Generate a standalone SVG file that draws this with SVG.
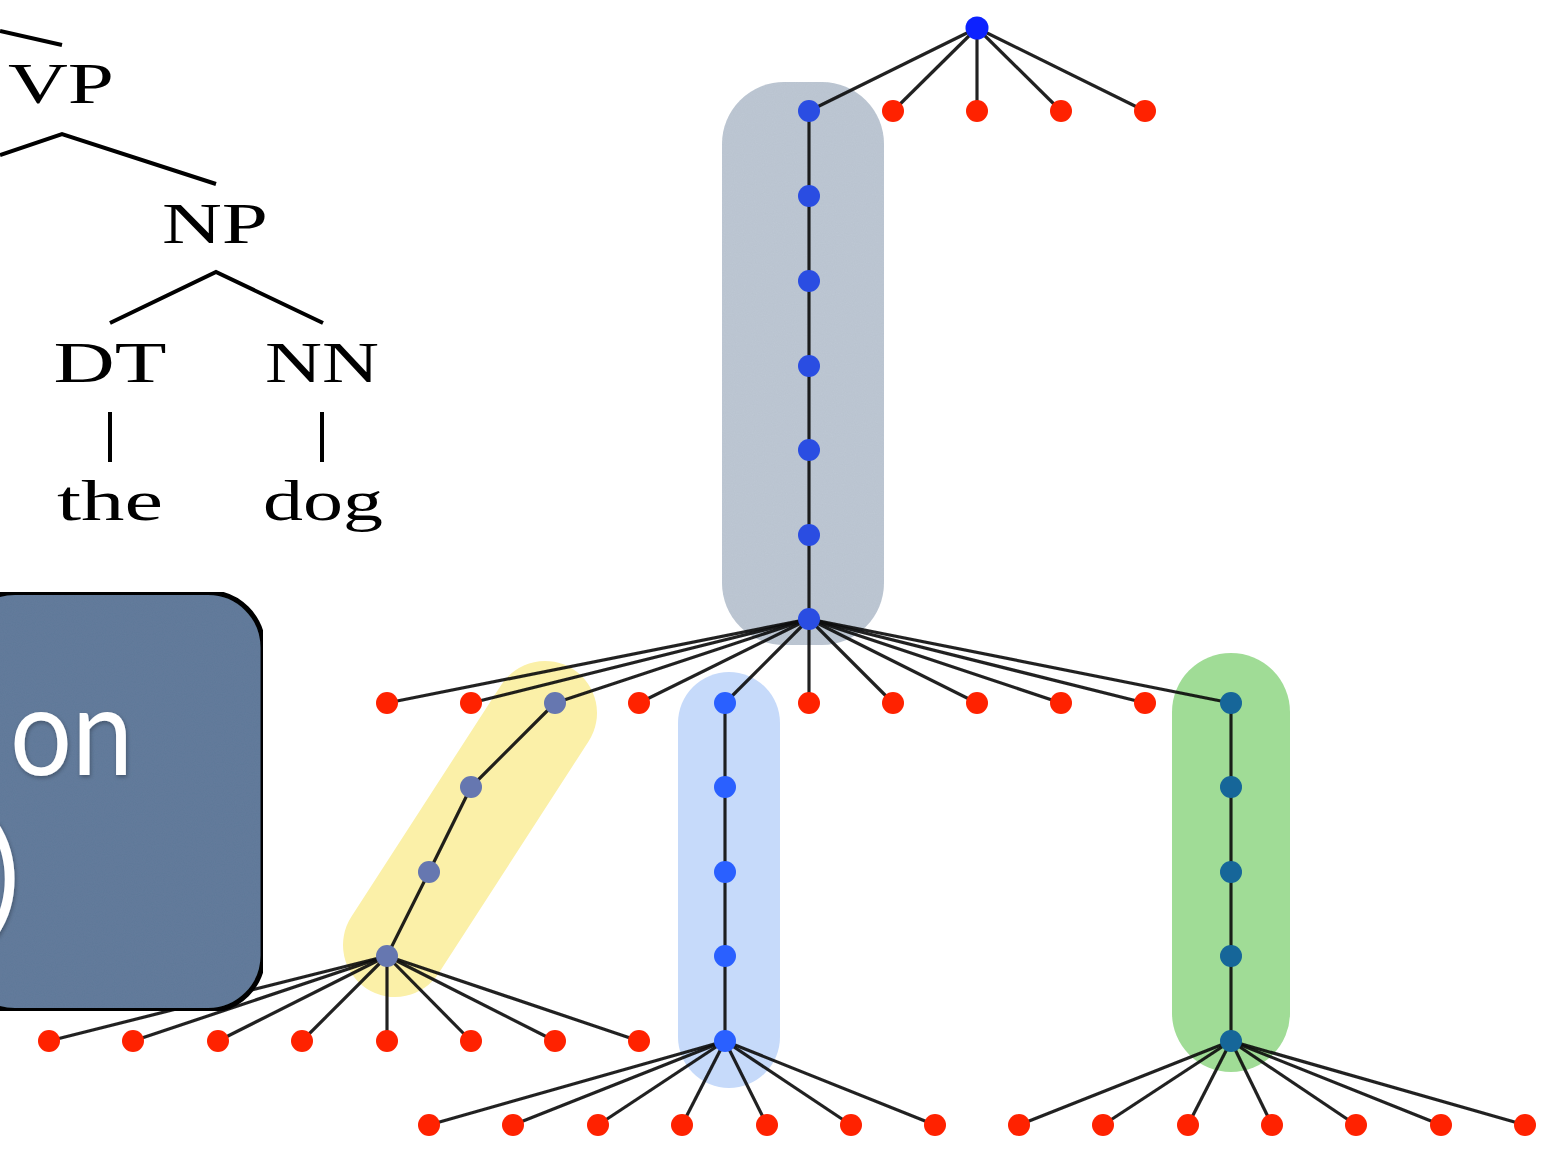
<svg xmlns="http://www.w3.org/2000/svg" width="1563" height="1154" viewBox="0 0 1563 1154">
  <defs>
    <style>
      .tree-line { stroke: #000; stroke-width: 4; fill: none; }
      .label { font-family: "Liberation Serif", "DejaVu Serif", serif; font-size: 58px; fill: #000; text-anchor: middle; }
      .edge { stroke: #0e0e0e; stroke-width: 3.2; stroke-opacity: 0.92; fill: none; }
      .red { fill: #ff2200; }
      .top { fill: #0a24ff; }
      .gray-chain { fill: #2a4ee2; }
      .yellow-chain { fill: #6677b0; }
      .blue-chain { fill: #2b60ff; }
      .green-chain { fill: #136699; }
      .box-text { font-family: Lato, "Open Sans", "Liberation Sans", sans-serif; fill: #fff; }
    </style>
    <filter id="soft" x="-5%" y="-5%" width="110%" height="110%">
      <feGaussianBlur stdDeviation="0.7"/>
    </filter>
    <filter id="grain" x="0" y="0" width="100%" height="100%">
      <feTurbulence type="fractalNoise" baseFrequency="0.9" numOctaves="2" seed="3" result="noise"/>
      <feColorMatrix in="noise" type="matrix" values="0 0 0 0 0  0 0 0 0 0  0 0 0 0 0  0 0 0 0.06 0" result="dots"/>
      <feComposite in="dots" in2="SourceGraphic" operator="in" result="dotsIn"/>
      <feMerge><feMergeNode in="SourceGraphic"/><feMergeNode in="dotsIn"/></feMerge>
    </filter>
    <filter id="textShadow" x="-20%" y="-20%" width="140%" height="140%">
      <feDropShadow dx="1" dy="2" stdDeviation="2" flood-color="#000" flood-opacity="0.3"/>
    </filter>
  </defs>

  <rect width="1563" height="1154" fill="#fff"/>

  <!-- Parse tree fragment: VP -> NP -> DT NN -> the dog -->
  <g id="parse-tree">
    <g id="parse-connectors">
      <line class="tree-line" x1="0" y1="31" x2="62" y2="45"/>
      <polyline class="tree-line" points="0,155 62,134 216,184"/>
      <polyline class="tree-line" points="110,323 216,272 323,323"/>
      <line class="tree-line" x1="110" y1="412" x2="110" y2="462"/>
      <line class="tree-line" x1="322" y1="412" x2="322" y2="462"/>
    </g>
    <g id="pt-vp"><text class="label" x="61" y="103" textLength="106" lengthAdjust="spacingAndGlyphs">VP</text></g>
    <g id="pt-np"><text class="label" x="215" y="243" textLength="106" lengthAdjust="spacingAndGlyphs">NP</text></g>
    <g id="pt-dt"><text class="label" x="110" y="382" textLength="113" lengthAdjust="spacingAndGlyphs">DT</text></g>
    <g id="pt-nn"><text class="label" x="322" y="382" textLength="114" lengthAdjust="spacingAndGlyphs">NN</text></g>
    <g id="pt-the"><text class="label" x="110" y="520" textLength="106" lengthAdjust="spacingAndGlyphs">the</text></g>
    <g id="pt-dog"><text class="label" x="323" y="520" textLength="120" lengthAdjust="spacingAndGlyphs">dog</text></g>
  </g>

  <!-- Highlight capsules behind the graph -->
  <g id="highlights">
    <rect id="hl-gray" x="722" y="82" width="162" height="563" rx="62" fill="#bec8d4" filter="url(#grain)"/>
    <line id="hl-yellow" x1="545" y1="713" x2="395" y2="945" stroke="#fbf0a8" stroke-width="104" stroke-linecap="round"/>
    <rect id="hl-blue" x="678" y="672" width="102" height="416" rx="51" fill="#c6dafa"/>
    <rect id="hl-green" x="1172" y="653" width="118" height="419" rx="59" fill="#a0dc96"/>
  </g>

  <g id="graph" filter="url(#soft)">
    <g id="connectors">
      <!-- root fan -->
      <line class="edge" x1="977" y1="28" x2="809" y2="111"/>
      <line class="edge" x1="977" y1="28" x2="893" y2="111"/>
      <line class="edge" x1="977" y1="28" x2="977" y2="111"/>
      <line class="edge" x1="977" y1="28" x2="1061" y2="111"/>
      <line class="edge" x1="977" y1="28" x2="1145" y2="111"/>
      <!-- gray chain -->
      <line class="edge" x1="809" y1="111" x2="809" y2="619"/>
      <!-- fan from the chain bottom -->
      <line class="edge" x1="809" y1="619" x2="387" y2="703"/>
      <line class="edge" x1="809" y1="619" x2="471" y2="703"/>
      <line class="edge" x1="809" y1="619" x2="555" y2="703"/>
      <line class="edge" x1="809" y1="619" x2="639" y2="703"/>
      <line class="edge" x1="809" y1="619" x2="725" y2="703"/>
      <line class="edge" x1="809" y1="619" x2="809" y2="703"/>
      <line class="edge" x1="809" y1="619" x2="893" y2="703"/>
      <line class="edge" x1="809" y1="619" x2="977" y2="703"/>
      <line class="edge" x1="809" y1="619" x2="1061" y2="703"/>
      <line class="edge" x1="809" y1="619" x2="1145" y2="703"/>
      <line class="edge" x1="809" y1="619" x2="1231" y2="703"/>
      <!-- yellow chain -->
      <polyline class="edge" points="555,703 471,787 429,872 387,956"/>
      <!-- fan from the yellow chain bottom -->
      <line class="edge" x1="387" y1="956" x2="49" y2="1041"/>
      <line class="edge" x1="387" y1="956" x2="133" y2="1041"/>
      <line class="edge" x1="387" y1="956" x2="218" y2="1041"/>
      <line class="edge" x1="387" y1="956" x2="302" y2="1041"/>
      <line class="edge" x1="387" y1="956" x2="387" y2="1041"/>
      <line class="edge" x1="387" y1="956" x2="471" y2="1041"/>
      <line class="edge" x1="387" y1="956" x2="555" y2="1041"/>
      <line class="edge" x1="387" y1="956" x2="639" y2="1041"/>
      <!-- blue chain -->
      <line class="edge" x1="725" y1="703" x2="725" y2="1041"/>
      <line class="edge" x1="725" y1="1041" x2="429" y2="1125"/>
      <line class="edge" x1="725" y1="1041" x2="513" y2="1125"/>
      <line class="edge" x1="725" y1="1041" x2="598" y2="1125"/>
      <line class="edge" x1="725" y1="1041" x2="682" y2="1125"/>
      <line class="edge" x1="725" y1="1041" x2="767" y2="1125"/>
      <line class="edge" x1="725" y1="1041" x2="851" y2="1125"/>
      <line class="edge" x1="725" y1="1041" x2="935" y2="1125"/>
      <!-- green chain -->
      <line class="edge" x1="1231" y1="703" x2="1231" y2="1041"/>
      <line class="edge" x1="1231" y1="1041" x2="1019" y2="1125"/>
      <line class="edge" x1="1231" y1="1041" x2="1103" y2="1125"/>
      <line class="edge" x1="1231" y1="1041" x2="1188" y2="1125"/>
      <line class="edge" x1="1231" y1="1041" x2="1272" y2="1125"/>
      <line class="edge" x1="1231" y1="1041" x2="1356" y2="1125"/>
      <line class="edge" x1="1231" y1="1041" x2="1441" y2="1125"/>
      <line class="edge" x1="1231" y1="1041" x2="1525" y2="1125"/>
    </g>

    <g id="nodes">
      <g id="root"><circle class="top" cx="977" cy="28" r="11.5"/></g>
      <g id="a1"><circle class="gray-chain" cx="809" cy="111" r="11"/></g>
      <g id="r1"><circle class="red" cx="893" cy="111" r="11"/></g>
      <g id="r2"><circle class="red" cx="977" cy="111" r="11"/></g>
      <g id="r3"><circle class="red" cx="1061" cy="111" r="11"/></g>
      <g id="r4"><circle class="red" cx="1145" cy="111" r="11"/></g>

      <g id="g1"><circle class="gray-chain" cx="809" cy="196" r="11"/></g>
      <g id="g2"><circle class="gray-chain" cx="809" cy="281" r="11"/></g>
      <g id="g3"><circle class="gray-chain" cx="809" cy="366" r="11"/></g>
      <g id="g4"><circle class="gray-chain" cx="809" cy="450" r="11"/></g>
      <g id="g5"><circle class="gray-chain" cx="809" cy="535" r="11"/></g>
      <g id="g6"><circle class="gray-chain" cx="809" cy="619" r="11"/></g>

      <g id="c0"><circle class="red" cx="387" cy="703" r="11"/></g>
      <g id="c1"><circle class="red" cx="471" cy="703" r="11"/></g>
      <g id="y0"><circle class="yellow-chain" cx="555" cy="703" r="11"/></g>
      <g id="c3"><circle class="red" cx="639" cy="703" r="11"/></g>
      <g id="b0"><circle class="blue-chain" cx="725" cy="703" r="11"/></g>
      <g id="c5"><circle class="red" cx="809" cy="703" r="11"/></g>
      <g id="c6"><circle class="red" cx="893" cy="703" r="11"/></g>
      <g id="c7"><circle class="red" cx="977" cy="703" r="11"/></g>
      <g id="c8"><circle class="red" cx="1061" cy="703" r="11"/></g>
      <g id="c9"><circle class="red" cx="1145" cy="703" r="11"/></g>
      <g id="gr0"><circle class="green-chain" cx="1231" cy="703" r="11"/></g>

      <g id="y1"><circle class="yellow-chain" cx="471" cy="787" r="11"/></g>
      <g id="y2"><circle class="yellow-chain" cx="429" cy="872" r="11"/></g>
      <g id="y3"><circle class="yellow-chain" cx="387" cy="956" r="11"/></g>

      <g id="d0"><circle class="red" cx="49" cy="1041" r="11"/></g>
      <g id="d1"><circle class="red" cx="133" cy="1041" r="11"/></g>
      <g id="d2"><circle class="red" cx="218" cy="1041" r="11"/></g>
      <g id="d3"><circle class="red" cx="302" cy="1041" r="11"/></g>
      <g id="d4"><circle class="red" cx="387" cy="1041" r="11"/></g>
      <g id="d5"><circle class="red" cx="471" cy="1041" r="11"/></g>
      <g id="d6"><circle class="red" cx="555" cy="1041" r="11"/></g>
      <g id="d7"><circle class="red" cx="639" cy="1041" r="11"/></g>

      <g id="b1"><circle class="blue-chain" cx="725" cy="787" r="11"/></g>
      <g id="b2"><circle class="blue-chain" cx="725" cy="872" r="11"/></g>
      <g id="b3"><circle class="blue-chain" cx="725" cy="956" r="11"/></g>
      <g id="b4"><circle class="blue-chain" cx="725" cy="1041" r="11"/></g>

      <g id="e0"><circle class="red" cx="429" cy="1125" r="11"/></g>
      <g id="e1"><circle class="red" cx="513" cy="1125" r="11"/></g>
      <g id="e2"><circle class="red" cx="598" cy="1125" r="11"/></g>
      <g id="e3"><circle class="red" cx="682" cy="1125" r="11"/></g>
      <g id="e4"><circle class="red" cx="767" cy="1125" r="11"/></g>
      <g id="e5"><circle class="red" cx="851" cy="1125" r="11"/></g>
      <g id="e6"><circle class="red" cx="935" cy="1125" r="11"/></g>

      <g id="gr1"><circle class="green-chain" cx="1231" cy="787" r="11"/></g>
      <g id="gr2"><circle class="green-chain" cx="1231" cy="872" r="11"/></g>
      <g id="gr3"><circle class="green-chain" cx="1231" cy="956" r="11"/></g>
      <g id="gr4"><circle class="green-chain" cx="1231" cy="1041" r="11"/></g>

      <g id="f0"><circle class="red" cx="1019" cy="1125" r="11"/></g>
      <g id="f1"><circle class="red" cx="1103" cy="1125" r="11"/></g>
      <g id="f2"><circle class="red" cx="1188" cy="1125" r="11"/></g>
      <g id="f3"><circle class="red" cx="1272" cy="1125" r="11"/></g>
      <g id="f4"><circle class="red" cx="1356" cy="1125" r="11"/></g>
      <g id="f5"><circle class="red" cx="1441" cy="1125" r="11"/></g>
      <g id="f6"><circle class="red" cx="1525" cy="1125" r="11"/></g>
    </g>
  </g>

  <!-- Callout box, running off the left edge -->
  <g id="callout">
    <rect x="-40" y="592.5" width="303" height="418" rx="55" fill="#637d9c" stroke="#0d0d0d" stroke-width="5" filter="url(#grain)"/>
    <g filter="url(#textShadow)">
      <text class="box-text" x="10" y="775" font-size="122" textLength="123" lengthAdjust="spacingAndGlyphs">on</text>
      <text class="box-text" x="20" y="918" font-size="125" text-anchor="end">)</text>
    </g>
  </g>
</svg>
